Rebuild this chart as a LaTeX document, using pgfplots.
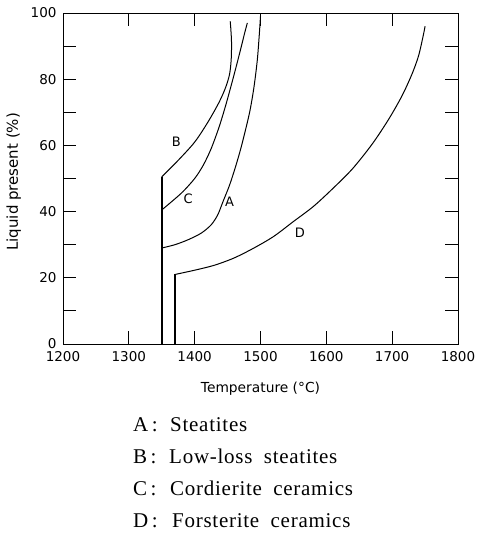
\documentclass[border=0pt]{standalone}
\usepackage{fontspec}
\setmainfont{Liberation Serif}
\newfontfamily\labelfont{DejaVu Sans}
\newfontfamily\legendfont[LetterSpace=3.5,WordSpace=1.9]{Liberation Serif}
\usepackage{pgfplots}
\pgfplotsset{compat=1.18}

\begin{document}
\begin{tikzpicture}
\useasboundingbox (0bp,0bp) rectangle (477bp,-536bp);
\begin{axis}[
  at={(63bp,-344bp)}, anchor=south west,
  scale only axis, width=395bp, height=331bp,
  xmin=1200, xmax=1800, ymin=0, ymax=100,
  xtick={1200,1300,...,1800},
  ytick={0,20,...,100},
  minor ytick={10,30,...,90},
  tick align=inside,
  major tick length=13bp, minor tick length=13bp,
  axis line style={line width=1bp},
  every tick/.style={black, line width=0.9bp},
  /pgf/number format/assume math mode=true,
  /pgf/number format/1000 sep={},
  ticklabel style={font=\labelfont\fontsize{13.5bp}{16bp}\selectfont},
  yticklabel style={xshift=-3bp},
  xticklabel style={yshift=-4bp},
  xlabel={Temperature (°C)},
  ylabel={Liquid present (\%)},
  xlabel style={font=\labelfont\fontsize{13.8bp}{16bp}\selectfont,
    at={(rel axis cs:0.5,-0.145)}, anchor=base},
  ylabel style={font=\labelfont\fontsize{15bp}{18bp}\selectfont,
    at={(rel axis cs:-0.114,0.49)}, anchor=base},
  every axis plot/.append style={black, line width=1bp},
]
% solidus steps
\addplot[line width=1.6bp] coordinates {(1350,0) (1350,50.5)};
\addplot[line width=1.6bp] coordinates {(1370,0) (1370,21)};
% B: low-loss steatites
\addplot[smooth] coordinates {
  (1350,50.5) (1375,55.5) (1400,61) (1420,67) (1437,73) (1447,77.5)
  (1453,81.5) (1455.5,86) (1456,91) (1455,95) (1454,97.5)};
% C: cordierite ceramics
\addplot[smooth] coordinates {
  (1350,40.5) (1365,43) (1382,46) (1400,50) (1413,54) (1425,59) (1437,65.5)
  (1447,72) (1456,78.5) (1464,84.5) (1471,90) (1476,94) (1480,97)};
% A: steatites
\addplot[smooth] coordinates {
  (1350,29) (1370,30) (1390,31.5) (1410,33.5) (1425,36) (1435,39)
  (1443,43) (1453,48) (1462,53.5) (1470,59) (1477,64.5) (1484,70.5)
  (1490,77.5) (1495,85.5) (1498,93) (1500,99)};
% D: forsterite ceramics
\addplot[smooth] coordinates {
  (1370,21) (1400,22.3) (1430,23.8) (1460,26) (1490,29) (1520,32.5)
  (1550,37) (1580,41.5) (1610,47) (1640,53) (1670,60.5) (1695,68)
  (1715,75) (1730,81.5) (1740,87) (1747,93) (1750,96)};
% curve labels
\begin{scope}[font=\labelfont\fontsize{13bp}{15bp}\selectfont]
\node at (axis cs:1372,61) {B};
\node at (axis cs:1390,44) {C};
\node at (axis cs:1453,43) {A};
\node at (axis cs:1560,33.5) {D};
\end{scope}
\end{axis}
% key to the curves
\begin{scope}[font=\legendfont\fontsize{21bp}{25bp}\selectfont]
\node[anchor=base west, inner sep=0pt] at (133bp,-431bp) {A\,:};
\node[anchor=base west, inner sep=0pt] at (170bp,-431bp) {Steatites};
\node[anchor=base west, inner sep=0pt] at (133bp,-463bp) {B\,:};
\node[anchor=base west, inner sep=0pt] at (169bp,-463bp) {Low-loss steatites};
\node[anchor=base west, inner sep=0pt] at (133bp,-495bp) {C\,:};
\node[anchor=base west, inner sep=0pt] at (170bp,-495bp) {Cordierite ceramics};
\node[anchor=base west, inner sep=0pt] at (133bp,-527bp) {D\,:};
\node[anchor=base west, inner sep=0pt] at (172bp,-527bp) {Forsterite ceramics};
\end{scope}
\end{tikzpicture}
\end{document}
